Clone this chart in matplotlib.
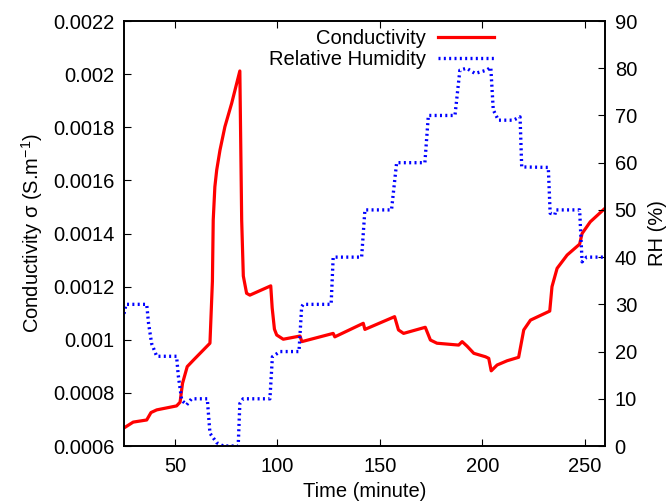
import matplotlib
matplotlib.use('Agg')
import matplotlib.pyplot as plt

plt.rcParams['font.family'] = ['Liberation Sans', 'DejaVu Sans']

# conductivity trace (minutes, S/m)
t_cond = [25, 29.5, 36.1, 38.2, 41, 50.7, 52.4, 53.6, 55.9, 59, 67.0, 68.2, 68.6, 69.4,
          70.3, 71.9, 74.3, 77.6, 81.6, 82.5, 83.3, 84.9, 86.5, 96.7, 97.4, 98.5, 99.6,
          102.8, 111, 111.9, 127.2, 128, 141.9, 142.7, 157.2, 159.1, 161.6, 172.2, 174.7,
          177.9, 188.5, 190.2, 192.6, 195.9, 201.6, 203.2, 204.4, 207.3, 212.2, 217.8,
          220.3, 223.6, 233, 234.1, 236.6, 241.5, 247.6, 248.8, 252.8, 260]
sigma = [0.000668, 0.000690, 0.000698, 0.000726, 0.000736, 0.000751, 0.000765, 0.000836,
         0.000899, 0.000924, 0.000987, 0.00122, 0.001451, 0.001576, 0.001639, 0.001714,
         0.001802, 0.00189, 0.002012, 0.00145, 0.00124, 0.001175, 0.001168, 0.001203,
         0.00112, 0.00104, 0.001018, 0.001002, 0.001014, 0.000993, 0.001024, 0.001011,
         0.001062, 0.001039, 0.001087, 0.001037, 0.001024, 0.001047, 0.000999, 0.000987,
         0.00098, 0.000993, 0.000976, 0.000949, 0.000936, 0.00093, 0.000883, 0.000905,
         0.000921, 0.000934, 0.001037, 0.001074, 0.001108, 0.0012, 0.001269, 0.001319,
         0.00136, 0.0014, 0.001444, 0.001495]

# relative humidity trace (minutes, %)
t_rh = [25, 26, 36.1, 37, 38.5, 41, 50.7, 51.5, 53.2, 55.6, 58, 65.7, 67, 70.3, 73.5, 80.8,
        81.6, 83.2, 96.3, 97.5, 101.2, 110.5, 111.8, 112.6, 126.2, 127.2, 141.1, 142.7,
        155.7, 158.2, 172, 173.7, 186.7, 189.1, 192.4, 196.5, 202.2, 204.2, 205.4, 207.9,
        215.2, 218.5, 219.3, 232.3, 233.2, 235.5, 236, 247.6, 248.8, 251, 260]
rh = [28, 30, 30, 26, 21.7, 19, 19, 15, 9.7, 8.7, 10, 10, 2.7, 0.7, 0, 0,
      9, 10, 10, 18.9, 20, 20, 29.5, 30, 30, 40, 40, 50,
      50, 60, 60, 70, 70, 79.6, 80, 78.9, 79.6, 80.2, 71.2, 69,
      69, 69.7, 59.1, 59, 49.3, 49, 50, 50, 39, 40, 40]

fs = 14.5
fig = plt.figure(figsize=(6.68, 5.03), dpi=100)
ax = fig.add_axes([0.1856, 0.1133, 0.7201, 0.8449])
ax2 = ax.twinx()

l1, = ax.plot(t_cond, sigma, color='#ff0000', lw=2.3, label='Conductivity')
l2, = ax2.plot(t_rh, rh, color='#0000ff', lw=2.4, ls=(0, (0.6, 1.0)),
               label='Relative Humidity')

ax.set_xlim(25, 260)
ax.set_ylim(0.0006, 0.0022)
ax2.set_ylim(0, 90)
ax.set_xticks([50, 100, 150, 200, 250])
ax.set_yticks([0.0006 + 0.0002 * i for i in range(9)])
ax.set_yticklabels(['0.0006', '0.0008', '0.001', '0.0012', '0.0014', '0.0016',
                    '0.0018', '0.002', '0.0022'])
ax2.set_yticks(range(0, 91, 10))

ax.tick_params(axis='x', direction='in', top=True, labelsize=fs, length=5, pad=8)
ax.tick_params(axis='y', direction='in', labelsize=fs, length=5, pad=7)
ax2.tick_params(axis='y', direction='in', labelsize=fs, length=5, pad=7)
for a in (ax, ax2):
    for s in a.spines.values():
        s.set_linewidth(1.2)

ax.set_xlabel('Time (minute)', fontsize=fs, labelpad=4)
ax.set_ylabel('Conductivity σ (S.m$^{\\mathregular{-1}}$)', fontsize=fs, labelpad=6)
ax2.set_ylabel('RH (%)', fontsize=fs, labelpad=8)

ax2.legend([l1, l2], ['Conductivity', 'Relative Humidity'], loc='upper right',
           bbox_to_anchor=(0.795, 1.01), frameon=False, markerfirst=False,
           fontsize=fs, handlelength=2.8, handletextpad=0.6, labelspacing=0.1,
           borderaxespad=0.2)

fig.savefig('out.png', dpi=100)
